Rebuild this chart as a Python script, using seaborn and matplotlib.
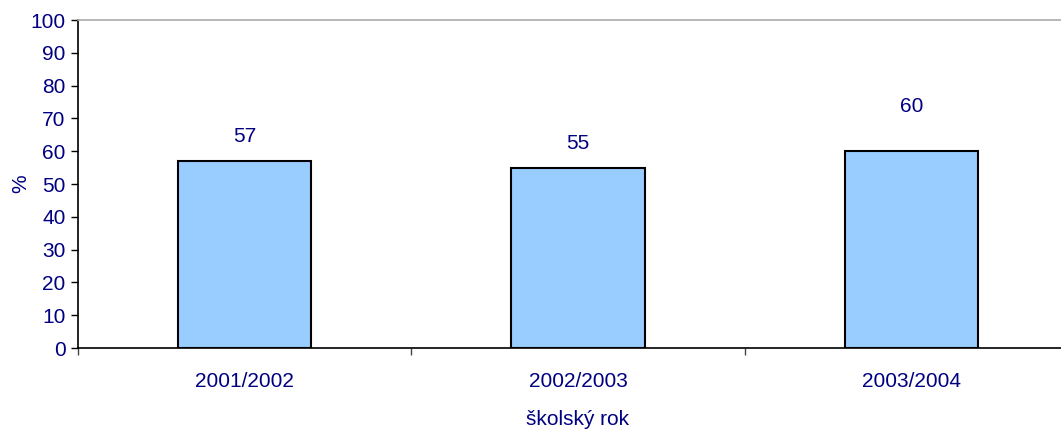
import pandas as pd
import seaborn as sns
import matplotlib.pyplot as plt

years = ["2001/2002", "2002/2003", "2003/2004"]
values = [57, 55, 60]

df = pd.DataFrame({"rok": years, "pct": values})

sns.set_style("white")
plt.rcParams["font.family"] = ["Liberation Sans", "DejaVu Sans"]
navy = "#000080"
fs = 15

fig = plt.figure(figsize=(10.61, 4.30), dpi=100)
ax = fig.add_axes([78 / 1061, 1 - 348 / 430, 1000 / 1061, 328 / 430])

sns.barplot(data=df, x="rok", y="pct", color="#99CCFF", edgecolor="black",
            linewidth=1.5, width=0.4, saturation=1, ax=ax)

# value labels above the bars (the last one sits higher in the original)
label_gap = [7.4, 7.3, 13.6]
for i, v in enumerate(values):
    ax.text(i, v + label_gap[i], f"{v}", ha="center", va="center", color=navy, fontsize=fs)

ax.set_ylim(0, 100)
ax.set_xlim(-0.5, 2.5)
ax.set_yticks(range(0, 101, 10))
ax.set_xticks([-0.5, 0.5, 1.5, 2.5], minor=True)
ax.tick_params(axis="x", which="major", length=0, pad=17, labelsize=fs, labelcolor=navy)
ax.tick_params(axis="x", which="minor", length=5, width=1, color="#444444", bottom=True, direction="out")
ax.tick_params(axis="y", length=5, width=1, color="black", left=True, direction="out",
               labelsize=fs, labelcolor=navy, pad=4)

ax.set_xlabel("školský rok", color=navy, fontsize=fs, labelpad=14)
ax.set_ylabel("%", color=navy, fontsize=fs, labelpad=0)

for s in ["left", "bottom"]:
    ax.spines[s].set_color("black")
    ax.spines[s].set_linewidth(1.2)
ax.spines["top"].set_color("#aaaaaa")
ax.spines["top"].set_linewidth(1.2)
ax.spines["right"].set_visible(False)

fig.savefig("out.png", dpi=100)
